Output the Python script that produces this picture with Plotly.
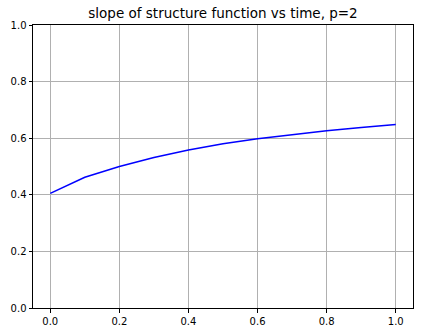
import plotly.graph_objects as go

# time values and slope of the p=2 structure function
time_vals = [0.0, 0.1, 0.2, 0.3, 0.4, 0.5, 0.6, 0.7, 0.8, 0.9, 1.0]
slope_vals = [0.405, 0.462, 0.500, 0.532, 0.558, 0.580, 0.598, 0.613, 0.626, 0.638, 0.648]

x_ticks = [0.0, 0.2, 0.4, 0.6, 0.8, 1.0]
y_ticks = [0.0, 0.2, 0.4, 0.6, 0.8, 1.0]

fig = go.Figure()
fig.add_trace(
    go.Scatter(
        x=time_vals,
        y=slope_vals,
        mode="lines",
        line={"color": "blue", "width": 1.5},
        showlegend=False,
    )
)

axis_style = dict(
    showline=True,
    linecolor="black",
    linewidth=1,
    mirror=True,
    ticks="outside",
    ticklen=3.5,
    tickwidth=1,
    tickcolor="black",
    showgrid=True,
    gridcolor="#b0b0b0",
    gridwidth=0.8,
    zeroline=False,
    automargin=False,
    tickfont={"family": "DejaVu Sans", "size": 10, "color": "black"},
)

fig.update_xaxes(
    range=[-0.05, 1.05],
    tickvals=x_ticks,
    ticktext=[f"{v:.1f}" for v in x_ticks],
    **axis_style,
)
fig.update_yaxes(
    range=[0, 1],
    tickvals=y_ticks,
    ticktext=[f"{v:.1f}" for v in y_ticks],
    **axis_style,
)

fig.update_layout(
    width=423,
    height=334,
    margin={"l": 33, "r": 10, "t": 25, "b": 26},
    paper_bgcolor="white",
    plot_bgcolor="white",
    title={
        "text": "slope of structure function vs time, p=2",
        "x": (33 + 413) / 2 / 423,
        "xanchor": "center",
        "y": 1 - 13 / 334,
        "yanchor": "middle",
        "font": {"family": "DejaVu Sans", "size": 13.5, "color": "black"},
    },
)

# drop the default page margin so the figure sits at the window's corner
fig.write_html(
    "out.html",
    config={"displayModeBar": False},
    post_script="document.body.style.margin='0';",
)
